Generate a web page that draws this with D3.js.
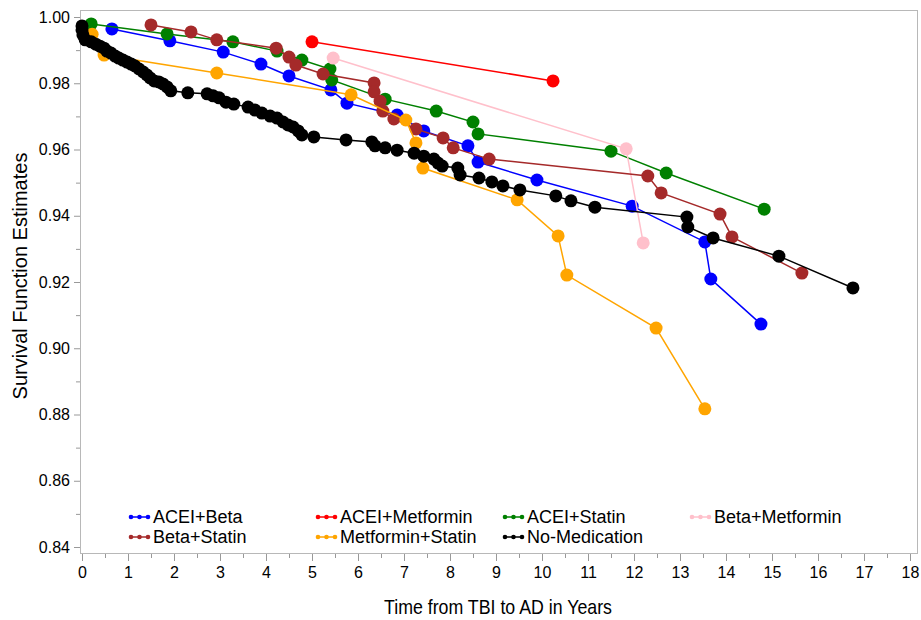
<!DOCTYPE html>
<html>
<head>
<meta charset="utf-8">
<script src="https://cdn.jsdelivr.net/npm/d3@7"></script>
<style>
  body { margin: 0; background: #fff; }
  text { font-family: "Liberation Sans", Arial, sans-serif; fill: #000; }
</style>
</head>
<body>
<script>
// Chart size
const width = 921;
const height = 620;

// Groups, colours and tick labels
const groups = ["ACEI+Beta", "ACEI+Metformin", "ACEI+Statin", "Beta+Metformin",
    "Beta+Statin", "Metformin+Statin", "No-Medication"];
const colors = ["#0000ff", "#ff0000", "#008000", "#ffc0cb", "#a52a2a", "#ffa500", "#000000"];
const xTicks = [0, 1, 2, 3, 4, 5, 6, 7, 8, 9, 10, 11, 12, 13, 14, 15, 16, 17, 18];
const yTicks = [0.84, 0.86, 0.88, 0.90, 0.92, 0.94, 0.96, 0.98, 1.00];

// Survival estimates per group: [years, estimate]
const aceiBeta = [[0.65, 0.9964], [1.91, 0.9928], [3.07, 0.9894], [3.89, 0.9858], [4.50, 0.9822],
    [5.41, 0.9780], [5.76, 0.9740], [6.85, 0.9704], [7.43, 0.9656], [8.39, 0.9611], [8.61, 0.9562],
    [9.89, 0.9508], [11.96, 0.9429], [13.54, 0.9321], [13.67, 0.9209], [14.76, 0.9073]];
const aceiMetformin = [[5.00, 0.9925], [10.24, 0.9807]];
const aceiStatin = [[0.20, 0.9979], [1.85, 0.9949], [3.28, 0.9925], [4.24, 0.9897], [4.78, 0.9870],
    [5.39, 0.9843], [5.43, 0.9810], [6.59, 0.9752], [7.70, 0.9716], [8.50, 0.9683], [8.61, 0.9647],
    [11.50, 0.9595], [12.70, 0.9529], [14.83, 0.9420]];
const betaMetformin = [[5.46, 0.9876], [11.83, 0.9602], [12.20, 0.9318]];
const betaStatin = [[1.50, 0.9976], [2.37, 0.9955], [2.93, 0.9931], [4.22, 0.9906], [4.50, 0.9879],
    [4.65, 0.9855], [5.24, 0.9828], [6.35, 0.9801], [6.35, 0.9774], [6.48, 0.9746], [6.54, 0.9716],
    [6.78, 0.9692], [7.26, 0.9662], [7.85, 0.9635], [8.07, 0.9605], [8.85, 0.9571], [12.30, 0.9520],
    [12.59, 0.9469], [13.87, 0.9405], [14.13, 0.9336], [15.65, 0.9227]];
const metforminStatin = [[0.22, 0.9948], [0.48, 0.9885], [2.93, 0.9831], [5.85, 0.9765],
    [7.04, 0.9689], [7.26, 0.9620], [7.41, 0.9544], [9.46, 0.9448], [10.35, 0.9339], [10.54, 0.9221],
    [12.48, 0.9061], [13.54, 0.8817]];
const noMedication = [[0.00, 0.9973], [0.00, 0.9961], [0.02, 0.9946], [0.07, 0.9931], [0.20, 0.9925],
    [0.30, 0.9918], [0.39, 0.9912], [0.48, 0.9906], [0.54, 0.9897], [0.63, 0.9891], [0.72, 0.9882],
    [0.80, 0.9876], [0.89, 0.9870], [0.98, 0.9864], [1.07, 0.9858], [1.15, 0.9852], [1.24, 0.9843],
    [1.33, 0.9834], [1.41, 0.9825], [1.48, 0.9816], [1.57, 0.9807], [1.67, 0.9804], [1.76, 0.9798],
    [1.85, 0.9789], [1.93, 0.9777], [2.30, 0.9771], [2.72, 0.9768], [2.85, 0.9762], [2.98, 0.9756],
    [3.13, 0.9743], [3.30, 0.9737], [3.61, 0.9728], [3.76, 0.9719], [3.91, 0.9710], [4.09, 0.9701],
    [4.24, 0.9695], [4.37, 0.9683], [4.48, 0.9674], [4.59, 0.9668], [4.70, 0.9656], [4.78, 0.9644],
    [5.04, 0.9638], [5.74, 0.9629], [6.30, 0.9623], [6.37, 0.9611], [6.59, 0.9605], [6.85, 0.9598],
    [7.22, 0.9589], [7.43, 0.9580], [7.65, 0.9571], [7.74, 0.9559], [7.83, 0.9550], [8.17, 0.9544],
    [8.22, 0.9523], [8.63, 0.9514], [8.91, 0.9502], [9.15, 0.9490], [9.52, 0.9478], [10.30, 0.9460],
    [10.63, 0.9445], [11.15, 0.9426], [13.15, 0.9396], [13.17, 0.9366], [13.72, 0.9333],
    [15.15, 0.9278], [16.76, 0.9182]];

const series = [aceiBeta, aceiMetformin, aceiStatin, betaMetformin, betaStatin, metforminStatin, noMedication];

// Main SVG
const svg = d3.select("body")
    .append("svg")
    .attr("width", width)
    .attr("height", height);

// Frame of the plot area
const frame = { left: 80, top: 10, right: 917, bottom: 553 };

// Scales
const xScale = d3.scaleLinear().domain([0, 18]).range([82, 910]);
const yScale = d3.scaleLinear().domain([0.84, 1.00]).range([547, 17]);

// Frame rectangle
svg.append("rect")
    .attr("x", frame.left + 0.5)
    .attr("y", frame.top + 0.5)
    .attr("width", frame.right - frame.left)
    .attr("height", frame.bottom - frame.top)
    .attr("fill", "none")
    .attr("stroke", "#b8b8b8");

// X axis, major and minor ticks
svg.append("g")
    .attr("transform", `translate(0, ${frame.bottom + 1})`)
    .call(d3.axisBottom(xScale).tickValues(xTicks).tickSize(7).tickPadding(6).tickFormat(d3.format("d")));
svg.append("g")
    .attr("transform", `translate(0, ${frame.bottom + 1})`)
    .call(d3.axisBottom(xScale).tickValues(xTicks.slice(0, -1).map(d => d + 0.5)).tickSize(4).tickFormat(""));

// Y axis, major and minor ticks
svg.append("g")
    .attr("transform", `translate(${frame.left}, 0)`)
    .call(d3.axisLeft(yScale).tickValues(yTicks).tickSize(6).tickPadding(4).tickFormat(d3.format(".2f")));
svg.append("g")
    .attr("transform", `translate(${frame.left}, 0)`)
    .call(d3.axisLeft(yScale).tickValues(yTicks.slice(0, -1).map(d => d + 0.01)).tickSize(4).tickFormat(""));

svg.selectAll(".domain").remove();
svg.selectAll(".tick line").attr("stroke", "#999");
svg.selectAll(".tick text")
    .style("font-size", "16px")
    .attr("fill", "#000");

// Axis titles
svg.append("text")
    .attr("x", 498)
    .attr("y", 614)
    .attr("text-anchor", "middle")
    .attr("textLength", 228)
    .attr("lengthAdjust", "spacingAndGlyphs")
    .style("font-size", "21px")
    .text("Time from TBI to AD in Years");

svg.append("text")
    .attr("transform", "rotate(-90)")
    .attr("x", -276)
    .attr("y", 27)
    .attr("text-anchor", "middle")
    .style("font-size", "20px")
    .text("Survival Function Estimates");

// Lines and markers, drawn one group after the other
const line = d3.line().x(d => xScale(d[0])).y(d => yScale(d[1]));

series.forEach((data, i) => {
    const g = svg.append("g").attr("class", "series");
    g.append("path")
        .datum(data)
        .attr("d", line)
        .attr("fill", "none")
        .attr("stroke", colors[i])
        .attr("stroke-width", 1.5);
    g.selectAll("circle")
        .data(data)
        .join("circle")
        .attr("cx", d => xScale(d[0]))
        .attr("cy", d => yScale(d[1]))
        .attr("r", 6.5)
        .attr("fill", colors[i]);
});

// Legend
const legendCols = [131, 318, 505, 692];
const legendRows = [517, 537];

const legend = svg.append("g")
    .selectAll("g")
    .data(groups)
    .join("g")
    .attr("transform", (d, i) => `translate(${legendCols[i % 4]}, ${legendRows[Math.floor(i / 4)]})`);

legend.append("line")
    .attr("x1", 0)
    .attr("x2", 17)
    .attr("stroke", (d, i) => colors[i])
    .attr("stroke-width", 1.5);

legend.selectAll("circle")
    .data((d, i) => [0, 8.5, 17].map(cx => ({ cx, color: colors[i] })))
    .join("circle")
    .attr("cx", d => d.cx)
    .attr("r", 2.3)
    .attr("fill", d => d.color);

legend.append("text")
    .attr("x", 22)
    .attr("dy", "0.35em")
    .style("font-size", "18px")
    .text(d => d);
</script>
</body>
</html>
